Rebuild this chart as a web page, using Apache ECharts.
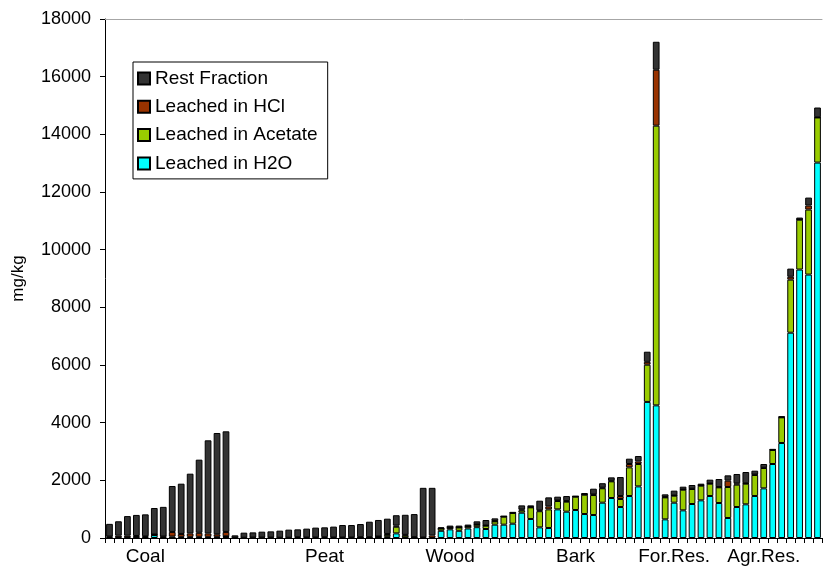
<!DOCTYPE html>
<html>
<head>
<meta charset="utf-8">
<script src="https://cdn.jsdelivr.net/npm/echarts@6/dist/echarts.min.js"></script>
<style>
  html, body { margin: 0; padding: 0; background: #fff; }
  #chart { width: 823px; height: 570px; }
</style>
</head>
<body>
<div id="chart"></div>
<script>
// Fuel samples, grouped as coal, peat, wood, bark, forest and agricultural residues.
// Each sample is split into the fractions leached in water, acetate, HCl and the rest (mg/kg).
const groupLabels = { 4: 'Coal', 24: 'Peat', 38: 'Wood', 52: 'Bark', 63: 'For.Res.', 73: 'Agr.Res.' };

const leachedH2O = [
  0, 0, 0, 0, 0, 100, 0, 10, 0, 0, 0, 0, 0, 40,
  0, 0, 0, 0, 0, 0, 0, 0, 0, 0, 0, 0, 0, 0, 10, 10, 20, 40, 160, 20, 0, 0, 0,
  250, 300, 250, 330, 375, 312, 462, 462, 496, 877, 659, 369, 347, 993, 913, 971, 832, 797, 1225, 1387, 1075, 1456, 1790,
  4720, 4600, 647, 1225, 959, 1179, 1306, 1457, 1214, 694, 1075, 1168, 1457, 1722, 2566, 3295, 7120, 9310, 9136, 13020
];
const leachedAcetate = [
  30, 20, 20, 20, 30, 10, 30, 40, 40, 40, 40, 40, 40, 20,
  10, 10, 15, 15, 20, 10, 10, 30, 20, 20, 30, 20, 20, 20, 20, 20, 20, 70, 230, 70, 20, 0, 0,
  80, 55, 115, 65, 85, 115, 115, 278, 371, 80, 404, 560, 646, 290, 347, 462, 670, 693, 500, 578, 277, 994, 776,
  1290, 9700, 763, 243, 717, 520, 509, 427, 543, 1075, 775, 716, 728, 706, 486, 890, 1840, 1730, 2254, 1565
];
const leachedHCl = [
  20, 60, 60, 50, 30, 10, 20, 160, 100, 120, 140, 120, 90, 150,
  0, 0, 0, 0, 0, 0, 0, 0, 0, 0, 0, 0, 0, 0, 0, 0, 10, 30, 40, 20, 10, 20, 90,
  5, 5, 5, 10, 10, 10, 10, 5, 5, 30, 10, 30, 104, 20, 20, 5, 10, 20, 20, 20, 104, 116, 90,
  100, 1940, 10, 10, 10, 10, 10, 10, 10, 219, 46, 15, 15, 10, 5, 5, 100, 10, 140, 5
];
const restFraction = [
  440, 500, 680, 730, 760, 920, 1030, 1594, 1744, 2071, 2537, 3228, 3512, 3490,
  82, 175, 180, 205, 210, 245, 280, 270, 305, 340, 340, 375, 430, 430, 455, 535, 575, 530, 360, 695, 800, 1720, 1650,
  35, 70, 60, 60, 108, 187, 94, 18, 30, 144, 58, 335, 312, 130, 176, 18, 48, 200, 155, 118, 659, 185, 187,
  351, 970, 94, 164, 94, 129, 59, 129, 279, 185, 324, 390, 135, 128, 30, 29, 283, 63, 276, 340
];

const categories = leachedH2O.map((_, i) => String(i + 1));

const seriesDefs = [
  { name: 'Leached in H2O', values: leachedH2O, color: '#00FFFF' },
  { name: 'Leached in Acetate', values: leachedAcetate, color: '#99CC00' },
  { name: 'Leached in HCl', values: leachedHCl, color: '#993300' },
  { name: 'Rest Fraction', values: restFraction, color: '#333333' }
];

const FONT = 'Liberation Sans, Arial, sans-serif';

const chart = echarts.init(document.getElementById('chart'), null, { renderer: 'canvas' });

chart.setOption({
  animation: false,
  backgroundColor: '#ffffff',
  grid: { left: 105, right: 1, top: 19, bottom: 32, containLabel: false },
  legend: {
    data: ['Rest Fraction', 'Leached in HCl', 'Leached in Acetate', 'Leached in H2O'],
    orient: 'vertical',
    left: 133,
    top: 62,
    padding: [7, 10, 6, 4],
    itemWidth: 12,
    itemHeight: 12,
    itemGap: 9.3,
    borderColor: '#000',
    borderWidth: 1,
    backgroundColor: '#fff',
    icon: 'rect',
    selectedMode: false,
    textStyle: { fontFamily: FONT, fontSize: 19, color: '#000' }
  },
  xAxis: [{
    type: 'category',
    data: categories,
    boundaryGap: true,
    axisLine: { lineStyle: { color: '#000', width: 1 } },
    axisTick: { show: true, interval: 0, length: 5, lineStyle: { color: '#000' } },
    axisLabel: {
      interval: 0,
      margin: 9,
      fontFamily: FONT,
      fontSize: 19,
      color: '#000',
      formatter: (v, i) => groupLabels[i] || ''
    },
    splitLine: { show: false }
  }, {
    type: 'category',
    position: 'top',
    data: categories,
    axisLine: { lineStyle: { color: '#A6A6A6', width: 1 } },
    axisTick: { show: false },
    axisLabel: { show: false }
  }],
  yAxis: {
    type: 'value',
    min: 0,
    max: 18000,
    interval: 2000,
    name: 'mg/kg',
    nameLocation: 'middle',
    nameGap: 78,
    nameTextStyle: { fontFamily: FONT, fontSize: 17, color: '#000' },
    axisLine: { show: true, lineStyle: { color: '#000', width: 1 } },
    axisTick: { show: true, inside: false, length: 5, lineStyle: { color: '#000' } },
    axisLabel: {
      margin: 14,
      fontFamily: FONT,
      fontSize: 18,
      color: '#000',
      formatter: v => String(v)
    },
    splitLine: { show: false }
  },
  series: seriesDefs.map(d => ({
    name: d.name,
    type: 'bar',
    stack: 'total',
    barCategoryGap: '25%',
    data: d.values.map(v => (v === 0 ? null : v)),
    itemStyle: { color: d.color, borderColor: '#000', borderWidth: 1 },
    emphasis: { disabled: true }
  }))
});
</script>
</body>
</html>
